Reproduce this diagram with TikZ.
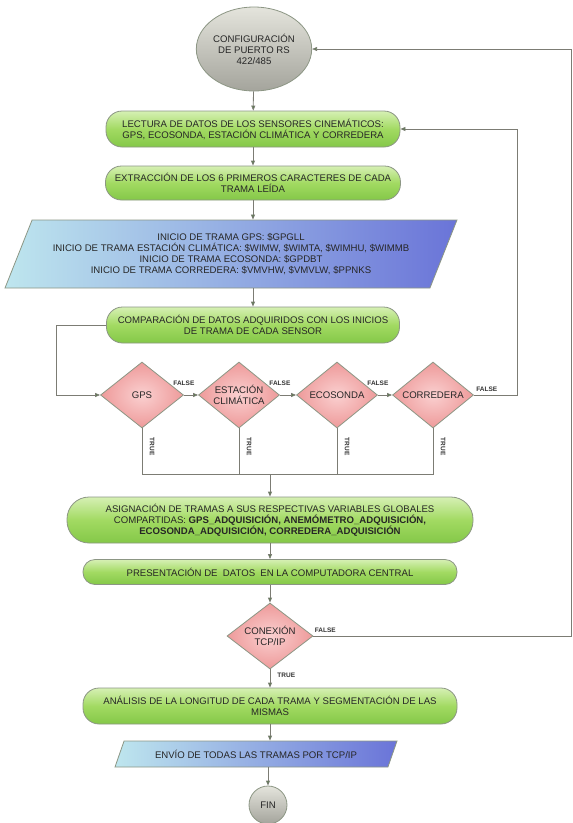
\documentclass[tikz,border=0pt]{standalone}
\usepackage{fontspec}
\setmainfont{Liberation Sans}
\usetikzlibrary{shapes.geometric,arrows.meta}

\definecolor{linegray}{HTML}{7C7C74}
\definecolor{edgegray}{HTML}{8C9684}
\definecolor{greentop}{HTML}{D6F0B4}
\definecolor{greenmid}{HTML}{A2DA62}
\definecolor{greenbot}{HTML}{84C848}
\definecolor{blueL}{HTML}{BEE6EE}
\definecolor{blueR}{HTML}{6A74D8}
\definecolor{pinkL}{HTML}{FAD0D0}
\definecolor{pinkD}{HTML}{EE9A9A}
\definecolor{grayL}{HTML}{E4E4DC}
\definecolor{grayD}{HTML}{A4A49C}
\definecolor{tipgreen}{HTML}{4E7E44}

\begin{document}
\begin{tikzpicture}[x=1pt,y=-1pt,
  txt/.style={font=\fontsize{9.6}{11}\selectfont, align=center, text=black!85},
  proc/.style={txt, draw=edgegray, line width=0.8pt, top color=greentop, bottom color=greenbot,
    middle color=greenmid, inner sep=1pt},
  datos/.style={txt, draw=edgegray, line width=0.8pt, trapezium, trapezium stretches body,
    left color=blueL, right color=blueR, inner sep=1pt},
  decis/.style={txt, draw=edgegray, line width=0.8pt, diamond, aspect=1.3, inner sep=0pt,
    inner color=pinkL, outer color=pinkD},
  term/.style={txt, draw=edgegray, line width=0.8pt, top color=grayL, bottom color=grayD},
  flab/.style={font=\fontsize{6.5}{7}\selectfont\bfseries, text=black!80, inner sep=1pt},
  arr/.style={draw=linegray, line width=0.8pt, -{Triangle[length=5pt,width=4pt,fill=tipgreen]}},
  lin/.style={draw=linegray, line width=0.8pt}]
\useasboundingbox (0,0) rectangle (573,823);

% inicio
\node[term, ellipse, minimum width=115pt, minimum height=84pt, inner sep=0pt] (cfg) at (254,49)
  {CONFIGURACIÓN\\DE PUERTO RS\\422/485};
\node[proc, rounded corners=16pt, minimum width=294pt, minimum height=36pt] (lect) at (253,129)
  {LECTURA DE DATOS DE LOS SENSORES CINEMÁTICOS:\\GPS, ECOSONDA, ESTACIÓN CLIMÁTICA Y CORREDERA};
\node[proc, rounded corners=16pt, minimum width=295pt, minimum height=34pt] (extr) at (253,183)
  {EXTRACCIÓN DE LOS 6 PRIMEROS CARACTERES DE CADA\\TRAMA LEÍDA};
\node[datos, trapezium left angle=58, trapezium right angle=122, minimum width=452pt,
  minimum height=68pt] (ini) at (231,254)
  {INICIO DE TRAMA GPS: \$GPGLL\\
   INICIO DE TRAMA ESTACIÓN CLIMÁTICA: \$WIMW, \$WIMTA, \$WIMHU, \$WIMMB\\
   INICIO DE TRAMA ECOSONDA: \$GPDBT\\
   INICIO DE TRAMA CORREDERA: \$VMVHW, \$VMVLW, \$PPNKS};
\node[proc, rounded corners=16pt, minimum width=293pt, minimum height=36pt] (comp) at (253,325)
  {COMPARACIÓN DE DATOS ADQUIRIDOS CON LOS INICIOS\\DE TRAMA DE CADA SENSOR};

% sensores
\node[decis, minimum width=83pt, minimum height=66pt] (gps) at (142,395) {GPS};
\node[decis, minimum width=81pt, minimum height=66pt] (est) at (239,395) {ESTACIÓN\\CLIMÁTICA};
\node[decis, minimum width=81pt, minimum height=66pt] (eco) at (337,395) {ECOSONDA};
\node[decis, minimum width=81pt, minimum height=66pt] (corr) at (433,395) {CORREDERA};
\coordinate (jn) at (270,474);
\coordinate (ret) at (571,0);

\node[proc, rounded corners=22pt, minimum width=406pt, minimum height=46pt] (asig) at (270,520)
  {ASIGNACIÓN DE TRAMAS A SUS RESPECTIVAS VARIABLES GLOBALES\\
   COMPARTIDAS: \textbf{GPS\_ADQUISICIÓN, ANEMÓMETRO\_ADQUISICIÓN,}\\
   \textbf{ECOSONDA\_ADQUISICIÓN, CORREDERA\_ADQUISICIÓN}};
\node[proc, rounded corners=12pt, minimum width=374pt, minimum height=25pt] (pres) at (270,572)
  {PRESENTACIÓN DE\ \ DATOS\ \ EN LA COMPUTADORA CENTRAL};
\node[decis, minimum width=86pt, minimum height=66pt] (tcp) at (270,636) {CONEXIÓN\\TCP/IP};
\node[proc, rounded corners=16pt, minimum width=374pt, minimum height=36pt] (anal) at (270,706)
  {ANÁLISIS DE LA LONGITUD DE CADA TRAMA Y SEGMENTACIÓN DE LAS\\MISMAS};
\node[datos, trapezium left angle=49, trapezium right angle=131, minimum width=282pt,
  minimum height=26pt] (env) at (256,754) {ENVÍO DE TODAS LAS TRAMAS POR TCP/IP};
\node[term, circle, minimum size=38pt, inner sep=0pt] (fin) at (268,805) {FIN};

% flujo
\draw[arr] (cfg) -- (lect);
\draw[arr] (lect) -- (extr);
\draw[arr] (extr.south) -- (extr.south |- ini.north);
\draw[arr] (comp.north |- ini.south) -- (comp.north);
\draw[arr] (comp.west) -- ++(-50,0) |- (gps.west);
\draw[arr] (gps.east) -- node[flab, pos=0, anchor=south, yshift=8pt]{FALSE} (est.west);
\draw[arr] (est.east) -- node[flab, pos=0, anchor=south, yshift=8pt]{FALSE} (eco.west);
\draw[arr] (eco.east) -- node[flab, pos=0, anchor=south, yshift=8pt]{FALSE} (corr.west);
\draw[arr] (corr.east) -- node[flab, pos=0.3, anchor=south, yshift=2pt]{FALSE} ++(43,0) |- (lect.east);
\draw[lin] (gps.south) -- node[flab, rotate=-90, pos=0.4, yshift=10pt]{TRUE} (gps.south |- jn)
  -- (corr.south |- jn) -- node[flab, rotate=-90, pos=0.6, yshift=10pt]{TRUE} (corr.south);
\draw[lin] (est.south) -- node[flab, rotate=-90, pos=0.4, yshift=10pt]{TRUE} (est.south |- jn);
\draw[lin] (eco.south) -- node[flab, rotate=-90, pos=0.4, yshift=10pt]{TRUE} (eco.south |- jn);
\draw[arr] (jn) -- (asig);
\draw[arr] (asig) -- (pres);
\draw[arr] (pres) -- (tcp);
\draw[arr] (tcp.east) -- node[flab, pos=0, anchor=south west, yshift=2pt]{FALSE} (tcp.east -| ret)
  |- (cfg.east);
\draw[arr] (tcp) -- node[flab, pos=0.35, anchor=west, xshift=6pt]{TRUE} (anal);
\draw[arr] (anal.south) -- (anal.south |- env.north);
\draw[arr] (fin.north |- env.south) -- (fin.north);
\end{tikzpicture}
\end{document}
